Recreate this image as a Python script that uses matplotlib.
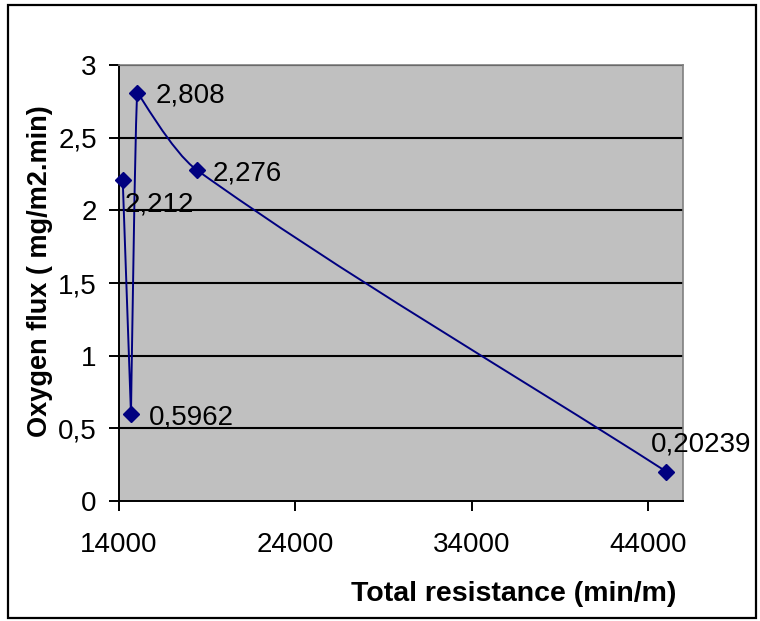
import matplotlib
matplotlib.use('Agg')
import matplotlib.pyplot as plt
import numpy as np
from matplotlib.path import Path
from matplotlib.patches import PathPatch, Rectangle

# Data
resistance = [14210, 14680, 15040, 18430, 45050]
oxygen_flux = [2.212, 0.5962, 2.808, 2.276, 0.20239]
point_labels = ['2,212', '0,5962', '2,808', '2,276', '0,20239']
label_offsets = [(2, -25), (18, -3), (18, -3), (16, -3), (-15, 27)]  # pixels

x_ticks = [14000, 24000, 34000, 44000]
y_ticks = [0, 0.5, 1, 1.5, 2, 2.5, 3]
y_tick_labels = ['0', '0,5', '1', '1,5', '2', '2,5', '3']

navy = '#000080'
plt.rcParams['font.family'] = ['Liberation Sans', 'DejaVu Sans']


def smooth_path(ax, xs, ys):
    # smoothed line built in screen space: tangent through the neighbours,
    # arm length weighted by adjacent segment lengths and shrunk at sharp turns
    pts = ax.transData.transform(np.column_stack([xs, ys]))
    n = len(pts)
    seg = [np.hypot(*(pts[i + 1] - pts[i])) for i in range(n - 1)]
    turn = np.ones(n)
    for i in range(1, n - 1):
        u_in = (pts[i] - pts[i - 1]) / seg[i - 1]
        u_out = (pts[i + 1] - pts[i]) / seg[i]
        turn[i] = (1 + np.dot(u_in, u_out)) / 2
    verts = [pts[0]]
    codes = [Path.MOVETO]
    for i in range(n - 1):
        p0 = pts[i - 1] if i > 0 else pts[i]
        p1 = pts[i]
        p2 = pts[i + 1]
        p3 = pts[i + 2] if i + 2 < n else pts[i + 1]
        prev_len = seg[i - 1] if i > 0 else 0.0
        next_len = seg[i + 1] if i + 2 < n else 0.0
        a1 = (p2 - p0) * seg[i] / (prev_len + seg[i]) / 3 * turn[i]
        a2 = (p3 - p1) * seg[i] / (next_len + seg[i]) / 3 * turn[i + 1]
        verts += [p1 + a1, p2 - a2, p2]
        codes += [Path.CURVE4] * 3
    verts = ax.transData.inverted().transform(np.array(verts))
    return Path(verts, codes)


fig = plt.figure(figsize=(7.6, 6.21), dpi=100)
ax = fig.add_axes([119 / 760, 1 - 501 / 621, 564 / 760, 436 / 621])
ax.set_facecolor('#C0C0C0')

ax.set_xlim(14000, 46000)
ax.set_ylim(0, 3)

for y in y_ticks[1:]:
    ax.axhline(y, color='black', linewidth=1.5, zorder=1)

ax.add_patch(PathPatch(smooth_path(ax, resistance, oxygen_flux), facecolor='none',
                       edgecolor=navy, linewidth=1.4, zorder=3))
ax.plot(resistance, oxygen_flux, linestyle='none', marker='D', markersize=8.5,
        color=navy, zorder=4, clip_on=False)

for x, y, txt, off in zip(resistance, oxygen_flux, point_labels, label_offsets):
    ax.annotate(txt, (x, y), xytext=off, textcoords='offset pixels',
                ha='left', va='center', fontsize=20, color='black',
                annotation_clip=False, zorder=5)

ax.set_xticks(x_ticks)
ax.set_xticklabels([str(v) for v in x_ticks])
ax.set_yticks(y_ticks)
ax.set_yticklabels(y_tick_labels)
ax.tick_params(axis='both', direction='out', length=7, width=1.4,
               labelsize=20, colors='black')
ax.tick_params(axis='x', pad=15)
ax.tick_params(axis='y', pad=9)

for side in ['top', 'right']:
    ax.spines[side].set_color('#808080')
    ax.spines[side].set_linewidth(1.2)
for side in ['left', 'bottom']:
    ax.spines[side].set_color('black')
    ax.spines[side].set_linewidth(1.4)

ax.set_xlabel('Total resistance (min/m)', fontsize=20.5, fontweight='bold')
ax.xaxis.set_label_coords(395 / 564, -80 / 436)
ax.set_ylabel('Oxygen flux ( mg/m2.min)', fontsize=19.5, fontweight='bold')
ax.yaxis.set_label_coords(-66 / 564, 230 / 436)

fig.patches.append(Rectangle((8 / 760, 3 / 621), 748 / 760, 613 / 621,
                             transform=fig.transFigure, fill=False,
                             edgecolor='black', linewidth=1.6))

fig.savefig('out.png', dpi=100)
